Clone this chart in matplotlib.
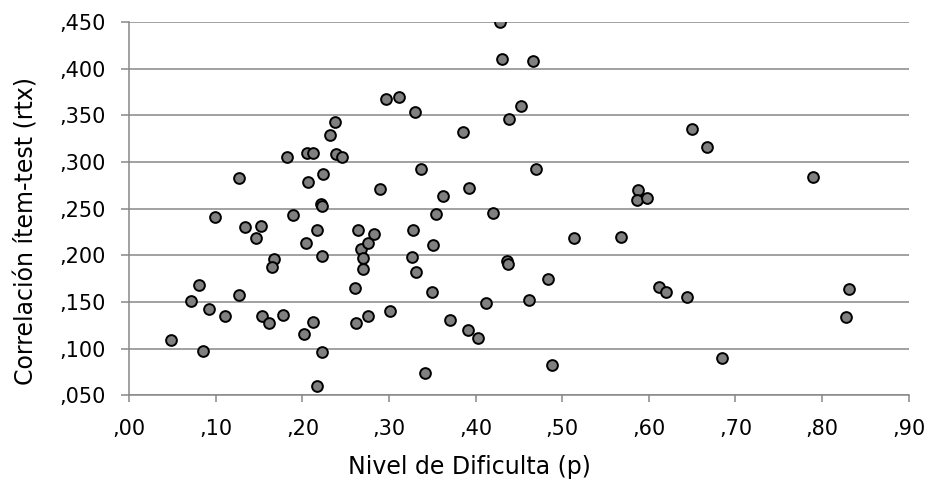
import matplotlib
matplotlib.use("Agg")
import matplotlib.pyplot as plt
from matplotlib.ticker import FuncFormatter

# nivel de dificultad (p) y correlacion item-test (rtx)
p = [.048, .071, .081, .085, .092, .110, .127, .153, .161, .167, .165, .177,
     .202, .212, .223, .217, .223, .204, .261, .262, .268, .270, .270, .276,
     .276, .301, .326, .331, .350, .351, .341, .370, .391, .354, .420, .362,
     .264, .283, .328, .436, .437, .412, .403, .221, .223, .217, .099, .127,
     .134, .152, .146, .182, .189, .205, .212, .206, .224, .232, .238, .239,
     .246, .290, .296, .312, .330, .337, .385, .392, .428, .430, .466, .452,
     .438, .470, .650, .667, .789, .587, .586, .598, .513, .568, .483, .462,
     .612, .620, .644, .831, .828, .488, .684]
rtx = [.109, .151, .168, .097, .142, .135, .157, .135, .127, .196, .187, .136,
       .116, .129, .096, .060, .199, .213, .165, .127, .207, .197, .185, .135,
       .213, .140, .198, .182, .161, .211, .074, .131, .120, .244, .245, .263,
       .227, .223, .227, .194, .191, .149, .111, .255, .253, .227, .241, .283,
       .230, .231, .218, .305, .243, .310, .310, .279, .287, .329, .343, .309,
       .305, .271, .367, .370, .354, .293, .332, .272, .450, .410, .408, .360,
       .346, .293, .335, .316, .284, .270, .259, .261, .218, .220, .175, .152,
       .166, .161, .155, .164, .134, .082, .090]

xticks = [0, .1, .2, .3, .4, .5, .6, .7, .8, .9]
yticks = [.05, .10, .15, .20, .25, .30, .35, .40, .45]

plt.rcParams['font.family'] = ['DejaVu Sans']

fig = plt.figure(figsize=(9.36, 4.83), dpi=100)
ax = fig.add_axes([0.1381, 0.1816, 0.8327, 0.7729])

ax.scatter(p, rtx, s=60, c='#808080', edgecolors='black', linewidths=1.4, zorder=3)

ax.set_xlim(0, 0.9)
ax.set_ylim(0.05, 0.45)
ax.set_xticks(xticks)
ax.set_yticks(yticks)
ax.xaxis.set_major_formatter(FuncFormatter(lambda v, pos: ',%02d' % round(v * 100)))
ax.yaxis.set_major_formatter(FuncFormatter(lambda v, pos: ',%03d' % round(v * 1000)))

ax.grid(axis='y', color='#878787', linewidth=1.1, zorder=0)
for s in ['top', 'right']:
    ax.spines[s].set_visible(False)
for s in ['left', 'bottom']:
    ax.spines[s].set_color('#878787')
    ax.spines[s].set_linewidth(1.1)
ax.tick_params(axis='x', direction='out', length=5, width=1.1, color='#878787',
               labelsize=15, pad=12)
ax.tick_params(axis='y', direction='out', length=6, width=1.1, color='#878787',
               labelsize=15, pad=11)

# titulos de ejes (centrados en el area del grafico, como en Excel)
fig.text(0.502, 0.033, 'Nivel de Dificulta (p)', fontsize=17, ha='center', va='center')
fig.text(0.028, 0.522, 'Correlación ítem-test (rtx)', fontsize=17, rotation=90,
         ha='center', va='center')

fig.savefig('out.png', dpi=100)
